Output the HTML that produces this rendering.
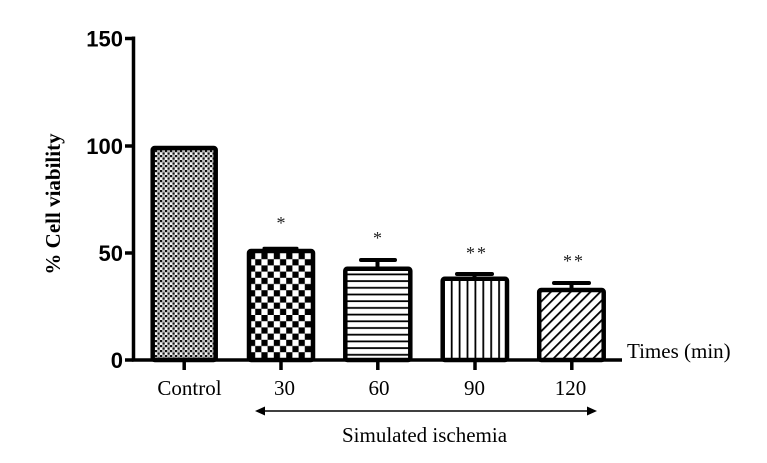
<!DOCTYPE html>
<html>
<head>
<meta charset="utf-8">
<style>
  html,body{margin:0;padding:0;background:#fff;}
  svg{display:block;}
  .tl{font-family:"Liberation Sans",Arial,sans-serif;font-weight:bold;font-size:22px;fill:#000;}
  .sf{font-family:"Liberation Serif","Times New Roman",serif;font-size:21px;fill:#000;}
  .st{font-family:"Liberation Serif","Times New Roman",serif;font-size:18px;fill:#222;}
</style>
</head>
<body>
<svg width="767" height="463" viewBox="0 0 767 463" xmlns="http://www.w3.org/2000/svg">
  <defs>
    <pattern id="pFine" x="0" y="0" width="5" height="5" patternUnits="userSpaceOnUse">
      <rect width="5" height="5" fill="#f4f4f4"/>
      <rect x="0" y="0" width="2.2" height="2.2" fill="#111"/>
      <rect x="2.5" y="2.5" width="2.2" height="2.2" fill="#111"/>
      <rect x="2.5" y="0" width="2.5" height="2.5" fill="#bbb"/>
    </pattern>
    <pattern id="pCheck" x="249" y="253" width="12.4" height="12.4" patternUnits="userSpaceOnUse">
      <rect width="12.4" height="12.4" fill="#fff"/>
      <rect x="0" y="0" width="6.2" height="6.2" fill="#000"/>
      <rect x="6.2" y="6.2" width="6.2" height="6.2" fill="#000"/>
    </pattern>
    <pattern id="pHoriz" x="0" y="269" width="10" height="6.7" patternUnits="userSpaceOnUse">
      <rect width="10" height="6.7" fill="#fff"/>
      <rect x="0" y="4.5" width="10" height="1.8" fill="#000"/>
    </pattern>
    <pattern id="pVert" x="450.8" y="0" width="7.9" height="10" patternUnits="userSpaceOnUse">
      <rect width="7.9" height="10" fill="#fff"/>
      <rect x="0" y="0" width="1.8" height="10" fill="#000"/>
    </pattern>
    <pattern id="pDiag" x="0" y="0" width="7" height="7" patternUnits="userSpaceOnUse" patternTransform="rotate(45)">
      <rect width="7" height="7" fill="#fff"/>
      <rect x="0" y="0" width="1.8" height="7" fill="#000"/>
    </pattern>
  </defs>

  <!-- Bars -->
  <rect x="152.7" y="148" width="63" height="212" rx="2" fill="url(#pFine)" stroke="#000" stroke-width="4.5"/>
  <rect x="249" y="251" width="64" height="109" rx="2" fill="url(#pCheck)" stroke="#000" stroke-width="4.5"/>
  <rect x="345.3" y="268.7" width="65" height="91.3" rx="2" fill="url(#pHoriz)" stroke="#000" stroke-width="4.5"/>
  <rect x="442.7" y="278.7" width="64.3" height="81.3" rx="2" fill="url(#pVert)" stroke="#000" stroke-width="4.5"/>
  <rect x="539.2" y="290" width="64.5" height="70" rx="2" fill="url(#pDiag)" stroke="#000" stroke-width="4.5"/>

  <!-- Error bars -->
  <g stroke="#000" stroke-width="4" stroke-linecap="round" fill="none">
    <line x1="264" y1="248.3" x2="297" y2="248.3" stroke-width="3"/>
    <line x1="377.5" y1="260" x2="377.5" y2="267"/>
    <line x1="361" y1="260" x2="395" y2="260"/>
    <line x1="474.5" y1="274" x2="474.5" y2="277"/>
    <line x1="457" y1="274" x2="492" y2="274"/>
    <line x1="571.5" y1="283" x2="571.5" y2="288"/>
    <line x1="554" y1="283" x2="589" y2="283"/>
  </g>

  <!-- Stars -->
  <text class="st" x="281" y="229" text-anchor="middle">*</text>
  <text class="st" x="377.5" y="244" text-anchor="middle">*</text>
  <text class="st" x="477" y="259" text-anchor="middle" letter-spacing="2">**</text>
  <text class="st" x="574" y="267" text-anchor="middle" letter-spacing="2">**</text>

  <!-- Axes -->
  <g stroke="#000" stroke-width="3.5" fill="none">
    <line x1="133.5" y1="36.5" x2="133.5" y2="361.5"/>
    <line x1="131.8" y1="360" x2="622" y2="360"/>
    <line x1="125" y1="38.5" x2="133.5" y2="38.5"/>
    <line x1="125" y1="146" x2="133.5" y2="146"/>
    <line x1="125" y1="253" x2="133.5" y2="253"/>
    <line x1="125" y1="360" x2="133.5" y2="360"/>
    <line x1="184.2" y1="360" x2="184.2" y2="370"/>
    <line x1="281" y1="360" x2="281" y2="370"/>
    <line x1="377.8" y1="360" x2="377.8" y2="370"/>
    <line x1="475" y1="360" x2="475" y2="370"/>
    <line x1="571.8" y1="360" x2="571.8" y2="370"/>
  </g>

  <!-- Y tick labels -->
  <text class="tl" x="123" y="46.5" text-anchor="end">150</text>
  <text class="tl" x="123" y="154" text-anchor="end">100</text>
  <text class="tl" x="123" y="261" text-anchor="end">50</text>
  <text class="tl" x="123" y="368" text-anchor="end">0</text>

  <!-- Y axis title -->
  <text class="sf" font-weight="bold" transform="translate(60,204) rotate(-90)" text-anchor="middle">% Cell viability</text>

  <!-- X labels -->
  <text class="sf" x="189.5" y="395" text-anchor="middle">Control</text>
  <text class="sf" x="284.5" y="395" text-anchor="middle">30</text>
  <text class="sf" x="379" y="395" text-anchor="middle">60</text>
  <text class="sf" x="474.5" y="395" text-anchor="middle">90</text>
  <text class="sf" x="570.5" y="395" text-anchor="middle">120</text>

  <text class="sf" x="627" y="358">Times (min)</text>

  <!-- Arrow -->
  <line x1="262" y1="411" x2="590" y2="411" stroke="#000" stroke-width="1.5"/>
  <polygon points="255,411 265,406.5 265,415.5" fill="#000"/>
  <polygon points="597,411 587,406.5 587,415.5" fill="#000"/>

  <text class="sf" x="342" y="442">Simulated ischemia</text>
</svg>
</body>
</html>
